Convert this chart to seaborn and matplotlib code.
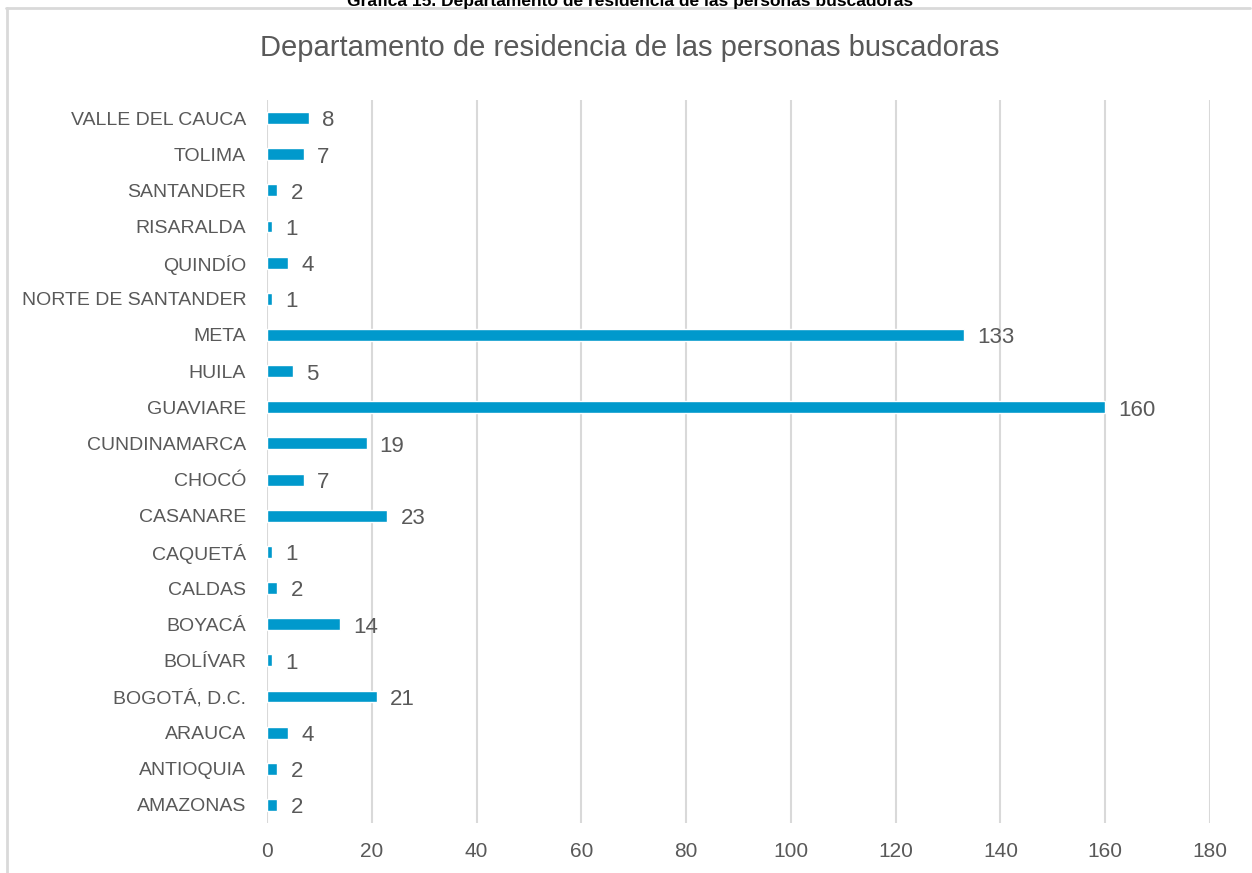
import pandas as pd
import seaborn as sb
import matplotlib.pyplot as plt
from matplotlib.lines import Line2D

# data (top to bottom)
departamentos = ["VALLE DEL CAUCA", "TOLIMA", "SANTANDER", "RISARALDA", "QUINDÍO",
                 "NORTE DE SANTANDER", "META", "HUILA", "GUAVIARE", "CUNDINAMARCA",
                 "CHOCÓ", "CASANARE", "CAQUETÁ", "CALDAS", "BOYACÁ", "BOLÍVAR",
                 "BOGOTÁ, D.C.", "ARAUCA", "ANTIOQUIA", "AMAZONAS"]
personas = [8, 7, 2, 1, 4, 1, 133, 5, 160, 19, 7, 23, 1, 2, 14, 1, 21, 4, 2, 2]
x_ticks = [0, 20, 40, 60, 80, 100, 120, 140, 160, 180]

df = pd.DataFrame({"departamento": departamentos, "personas": personas})

sb.set_style("white")
plt.rcParams['font.family'] = ['Liberation Sans Narrow', 'Liberation Sans', 'DejaVu Sans']
gris = "#595959"

fig = plt.figure(figsize=(12.52, 8.73), dpi=100)
ax = fig.add_axes([267 / 1252, 1 - 823 / 873, 943 / 1252, 723 / 873])

sb.barplot(data=df, x="personas", y="departamento", orient="h", color="#0099CC",
           saturation=1, width=0.33, ax=ax)

ax.set_xlim(0, 180)
ax.set_ylim(19.5, -0.5)
ax.set_xticks(x_ticks)
ax.xaxis.grid(True, color="#D9D9D9", linewidth=1.5)
ax.set_axisbelow(True)
for s in ax.spines.values():
    s.set_visible(False)
ax.tick_params(axis="both", length=0, colors=gris)
ax.tick_params(axis="x", pad=14, labelsize=15)
ax.tick_params(axis="y", pad=15, labelsize=14)
ax.set_xlabel("")
ax.set_ylabel("")

# value labels
for i, v in enumerate(personas):
    ax.text(v + 2.5, i + 0.08, str(v), va="center", ha="left", fontsize=16, color=gris)

fig.text(0.503, 0.945, "Departamento de residencia de las personas buscadoras",
         ha="center", va="center", fontsize=21, color=gris)

# bold heading (clipped at the top, as in the source) and chart frame
fig.text(0.503, 0.998, "Gráfica 15. Departamento de residencia de las personas buscadoras",
         ha="center", va="center", fontsize=12.5, fontweight="bold", color="black")
fig.add_artist(Line2D([6 / 1252, 1250 / 1252], [1 - 8 / 873, 1 - 8 / 873],
                      transform=fig.transFigure, color="#D9D9D9", linewidth=2))
fig.add_artist(Line2D([7 / 1252, 7 / 1252], [0, 1 - 8 / 873],
                      transform=fig.transFigure, color="#D9D9D9", linewidth=2))

fig.savefig("out.png", dpi=100)
